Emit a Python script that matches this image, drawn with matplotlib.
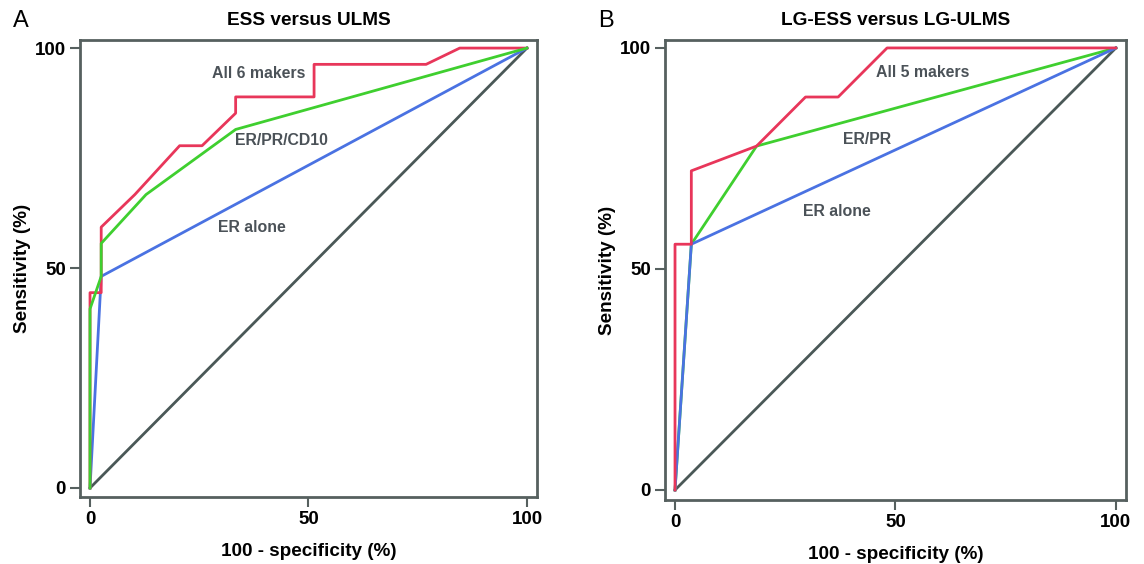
import matplotlib
matplotlib.use("Agg")
import matplotlib.pyplot as plt

# Panel A: ESS versus ULMS (27 ESS / 39 ULMS)
a_all6_x = [0, 0, 2.56, 2.56, 10.26, 20.51, 25.64, 33.33, 33.33, 51.28, 51.28, 76.92, 84.62, 100]
a_all6_y = [0, 44.4, 44.4, 59.3, 66.7, 77.8, 77.8, 85.2, 88.9, 88.9, 96.3, 96.3, 100, 100]
a_erprcd10_x = [0, 0, 2.56, 2.56, 12.82, 33.33, 100]
a_erprcd10_y = [0, 40.7, 48.1, 55.6, 66.7, 81.5, 100]
a_er_x = [0, 2.56, 100]
a_er_y = [0, 48.1, 100]

# Panel B: LG-ESS versus LG-ULMS (18 / 27)
b_all5_x = [0, 0, 3.7, 3.7, 18.5, 29.6, 37.0, 48.1, 100]
b_all5_y = [0, 55.6, 55.6, 72.2, 77.8, 88.9, 88.9, 100, 100]
b_erpr_x = [0, 3.7, 18.5, 100]
b_erpr_y = [0, 55.6, 77.8, 100]
b_er_x = [0, 3.7, 100]
b_er_y = [0, 55.6, 100]

ref_line = [0, 100]
ticks = [0, 50, 100]

RED = "#e8365a"
GREEN = "#3fcf2f"
BLUE = "#4a72e2"
GREY = "#4a5857"
TXT = "#4b5258"
FRAME = "#56605f"

plt.rcParams["font.family"] = ["Liberation Sans", "DejaVu Sans"]

fig = plt.figure(figsize=(11.44, 5.64), dpi=100)
ax1 = fig.add_axes([0.0699, 0.1188, 0.3995, 0.810])
ax2 = fig.add_axes([0.5813, 0.1135, 0.403, 0.8156])


def style(ax, title, letter, lims):
    ax.set_xlim(lims[0], lims[1])
    ax.set_ylim(lims[2], lims[3])
    ax.set_xticks(ticks)
    ax.set_yticks(ticks)
    ax.tick_params(direction="out", length=7, width=1.5, color=FRAME,
                   labelsize=13.5, pad=3)
    for lab in ax.get_xticklabels() + ax.get_yticklabels():
        lab.set_fontweight("bold")
    for sp in ax.spines.values():
        sp.set_color(FRAME)
        sp.set_linewidth(2)
    ax.set_xlabel("100 - specificity (%)", fontsize=13.6, fontweight="bold", labelpad=11)
    ax.set_ylabel("Sensitivity (%)", fontsize=13.6, fontweight="bold", labelpad=3)
    ax.set_title(title, fontsize=13.7, fontweight="bold", pad=11)
    ax.text(-0.146, 1.017, letter, transform=ax.transAxes, fontsize=17,
            ha="left", va="bottom")


lw = 2
lab_fs = 11.4
ax1.plot(ref_line, ref_line, color=GREY, lw=lw)
ax1.plot(a_er_x, a_er_y, color=BLUE, lw=lw)
ax1.plot(a_all6_x, a_all6_y, color=RED, lw=lw)
ax1.plot(a_erprcd10_x, a_erprcd10_y, color=GREEN, lw=lw)
ax1.text(38.7, 94.2, "All 6 makers", color=TXT, fontsize=lab_fs, fontweight="bold",
         ha="center", va="center")
ax1.text(43.7, 78.9, "ER/PR/CD10", color=TXT, fontsize=lab_fs, fontweight="bold",
         ha="center", va="center")
ax1.text(37, 59.2, "ER alone", color=TXT, fontsize=lab_fs, fontweight="bold",
         ha="center", va="center")
style(ax1, "ESS versus ULMS", "A", (-2.3, 102.3, -2.05, 101.8))

ax2.plot(ref_line, ref_line, color=GREY, lw=lw)
ax2.plot(b_erpr_x, b_erpr_y, color=GREEN, lw=lw)
ax2.plot(b_er_x, b_er_y, color=BLUE, lw=lw)
ax2.plot(b_all5_x, b_all5_y, color=RED, lw=lw)
ax2.text(56.1, 94.5, "All 5 makers", color=TXT, fontsize=lab_fs, fontweight="bold",
         ha="center", va="center")
ax2.text(43.5, 79.3, "ER/PR", color=TXT, fontsize=lab_fs, fontweight="bold",
         ha="center", va="center")
ax2.text(36.6, 63.1, "ER alone", color=TXT, fontsize=lab_fs, fontweight="bold",
         ha="center", va="center")
style(ax2, "LG-ESS versus LG-ULMS", "B", (-2.27, 102.3, -2.26, 101.8))

fig.savefig("out.png", dpi=100)
